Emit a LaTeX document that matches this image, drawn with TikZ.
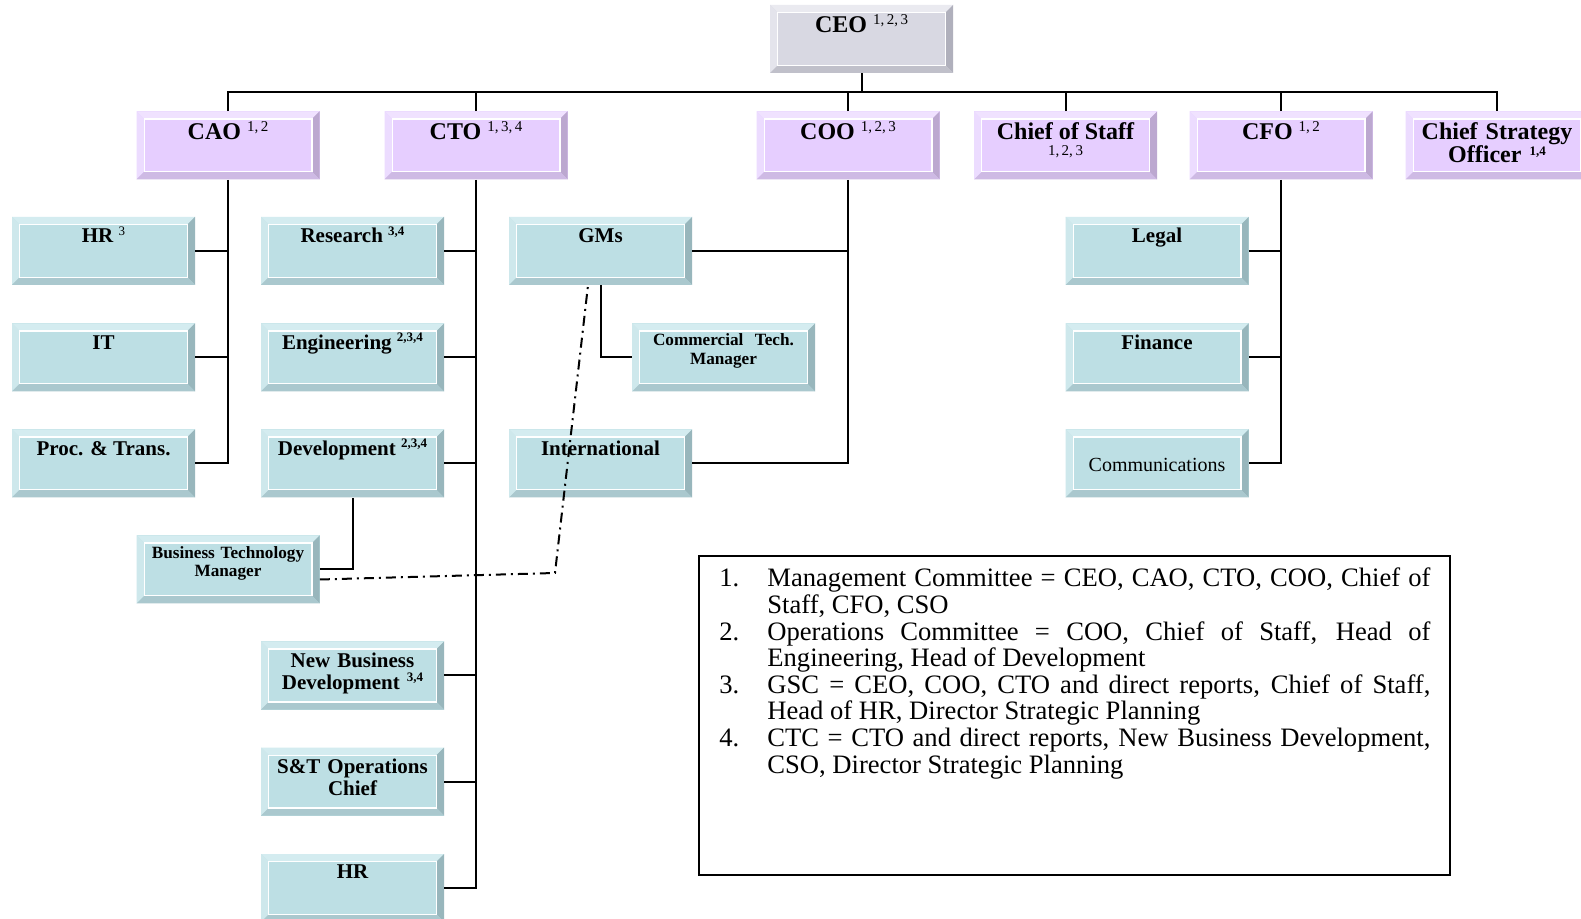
\documentclass[tikz,border=0pt]{standalone}
\usepackage{fontspec}
\setmainfont{Liberation Serif}
\usetikzlibrary{calc}
\definecolor{gface}{RGB}{216,216,226}
\definecolor{gtop}{RGB}{234,234,240}
\definecolor{gleft}{RGB}{228,228,236}
\definecolor{gright}{RGB}{176,176,188}
\definecolor{gbot}{RGB}{192,192,202}
\definecolor{lface}{RGB}{230,206,255}
\definecolor{ltop}{RGB}{240,226,255}
\definecolor{lleft}{RGB}{236,220,255}
\definecolor{lright}{RGB}{188,168,208}
\definecolor{lbot}{RGB}{206,186,228}
\definecolor{cface}{RGB}{189,223,228}
\definecolor{ctop}{RGB}{212,236,240}
\definecolor{cleft}{RGB}{206,232,236}
\definecolor{cright}{RGB}{152,182,188}
\definecolor{cbot}{RGB}{170,200,206}
\newcommand\bvw{3.8pt}
\newcommand\topfont{\fontsize{12}{12}\selectfont\bfseries}
\newcommand\midfont{\fontsize{10.5}{11}\selectfont\bfseries}
\newcommand\tsup[1]{\raisebox{4pt}{\fontsize{7.5}{8}\selectfont\mdseries #1}}
\newcommand\msup[1]{\raisebox{3.6pt}{\fontsize{6.5}{7}\selectfont #1}}
\newcommand\legline[1]{\makebox[331.5pt][s]{#1}}
\tikzset{
  bev/.style n args={5}{fill=#1, draw=none, inner sep=0pt, minimum width=91.5pt, minimum height=34pt,
    path picture={
      \coordinate (pSW) at (path picture bounding box.south west);
      \coordinate (pNE) at (path picture bounding box.north east);
      \coordinate (pNW) at (path picture bounding box.north west);
      \coordinate (pSE) at (path picture bounding box.south east);
      \fill[#2] (pNW) -- (pNE) -- ($(pNE)+(-\bvw,-\bvw)$) -- ($(pNW)+(\bvw,-\bvw)$) -- cycle;
      \fill[#3] (pNW) -- (pSW) -- ($(pSW)+(\bvw,\bvw)$) -- ($(pNW)+(\bvw,-\bvw)$) -- cycle;
      \fill[#4] (pNE) -- (pSE) -- ($(pSE)+(-\bvw,\bvw)$) -- ($(pNE)+(-\bvw,-\bvw)$) -- cycle;
      \fill[#5] (pSW) -- (pSE) -- ($(pSE)+(-\bvw,\bvw)$) -- ($(pSW)+(\bvw,\bvw)$) -- cycle;
      \draw[white, line width=0.6pt] ($(pSW)+(\bvw,\bvw)$) rectangle ($(pNE)+(-\bvw,-\bvw)$);
    }},
  greybox/.style={bev={gface}{gtop}{gleft}{gright}{gbot}},
  lilacbox/.style={bev={lface}{ltop}{lleft}{lright}{lbot}},
  cyanbox/.style={bev={cface}{ctop}{cleft}{cright}{cbot}},
  toplab/.style={anchor=base, inner sep=0pt, font=\topfont},
  midlab/.style={anchor=base, inner sep=0pt, font=\midfont},
  multilab/.style={anchor=base, inner sep=0pt, text width=100pt, align=center},
  conn/.style={line width=1pt, black},
  dotline/.style={line width=1pt, black, dash pattern=on 5pt off 2.5pt on 1pt off 2.5pt},
}
\begin{document}
\begin{tikzpicture}[x=0.5pt, y=-0.5pt]
\fill[white] (0,0) rectangle (1581,919);
\useasboundingbox (0,0) rectangle (1581,919);

% top level
\node[greybox] (ceo) at (861.5,39) {};
\node[lilacbox] (cao) at (228,145.5) {};
\node[lilacbox] (cto) at (476,145.5) {};
\node[lilacbox] (coo) at (848,145.5) {};
\node[lilacbox] (cos) at (1065.5,145.5) {};
\node[lilacbox] (cfo) at (1281,145.5) {};
\node[lilacbox] (cso) at (1497,145.5) {};

% CAO reports
\node[cyanbox] (hra) at (103.5,251) {};
\node[cyanbox] (it) at (103.5,357.5) {};
\node[cyanbox] (proc) at (103.5,463.5) {};
% CTO reports
\node[cyanbox] (res) at (352.5,251) {};
\node[cyanbox] (eng) at (352.5,357.5) {};
\node[cyanbox] (dev) at (352.5,463.5) {};
\node[cyanbox] (btm) at (228,569.5) {};
\node[cyanbox] (nbd) at (352.5,675.5) {};
\node[cyanbox] (snt) at (352.5,781.5) {};
\node[cyanbox] (hrb) at (352.5,888) {};
% COO reports
\node[cyanbox] (gms) at (600.5,251) {};
\node[cyanbox] (ctm) at (723.5,357.5) {};
\node[cyanbox] (intl) at (600.5,463.5) {};
% CFO reports
\node[cyanbox] (legal) at (1157,251) {};
\node[cyanbox] (fin) at (1157,357.5) {};
\node[cyanbox] (comm) at (1157,463.5) {};

% labels
\node[toplab] (ceo-t) at ($(ceo.north)+(0,-14pt)$) {CEO \tsup{1,\,2,\,3}};
\node[toplab] (cao-t) at ($(cao.north)+(0,-14pt)$) {CAO \tsup{1,\,2}};
\node[toplab] (cto-t) at ($(cto.north)+(0,-14pt)$) {CTO \tsup{1,\,3,\,4}};
\node[toplab] (coo-t) at ($(coo.north)+(0,-14pt)$) {COO \tsup{1,\,2,\,3}};
\node[toplab] (cos-t) at ($(cos.north)+(0,-14pt)$) {Chief of Staff};
\node[anchor=base, inner sep=0pt, font=\fontsize{7.5}{8}\selectfont] (cos-s) at ($(cos.north)+(0,-22pt)$) {1,\,2,\,3};
\node[toplab] (cfo-t) at ($(cfo.north)+(0,-14pt)$) {CFO \tsup{1,\,2}};
\node[multilab, font=\fontsize{12}{11.6}\selectfont\bfseries] (cso-t) at ($(cso.north)+(0,-14pt)$) {Chief Strategy\\Officer \msup{1,4}};

\node[midlab] (hra-t) at ($(hra.north)+(0,-13pt)$) {HR \msup{\mdseries 3}};
\node[midlab] (it-t) at ($(it.north)+(0,-13pt)$) {IT};
\node[midlab] (proc-t) at ($(proc.north)+(0,-13pt)$) {Proc. \& Trans.};
\node[midlab] (res-t) at ($(res.north)+(0,-13pt)$) {Research \msup{3,4}};
\node[midlab] (eng-t) at ($(eng.north)+(0,-13pt)$) {Engineering \msup{2,3,4}};
\node[midlab] (dev-t) at ($(dev.north)+(0,-13pt)$) {Development \msup{2,3,4}};
\node[multilab, font=\fontsize{8.6}{9}\selectfont\bfseries] (btm-t) at ($(btm.north)+(0,-11.5pt)$) {Business Technology\\Manager};
\node[multilab, font=\fontsize{10.5}{11}\selectfont\bfseries] (nbd-t) at ($(nbd.north)+(0,-13pt)$) {New Business\\Development \msup{3,4}};
\node[multilab, font=\fontsize{10.5}{11.2}\selectfont\bfseries] (snt-t) at ($(snt.north)+(0,-13pt)$) {S\&T Operations\\Chief};
\node[midlab] (hrb-t) at ($(hrb.north)+(0,-12.5pt)$) {HR};
\node[midlab] (gms-t) at ($(gms.north)+(0,-13pt)$) {GMs};
\node[multilab, font=\fontsize{8.6}{9.5}\selectfont\bfseries] (ctm-t) at ($(ctm.north)+(0,-11pt)$) {Commercial\ \ Tech.\\Manager};
\node[midlab] (intl-t) at ($(intl.north)+(0,-13pt)$) {International};
\node[midlab] (legal-t) at ($(legal.north)+(0,-13pt)$) {Legal};
\node[midlab] (fin-t) at ($(fin.north)+(0,-13pt)$) {Finance};
\node[anchor=base, inner sep=0pt, font=\fontsize{10}{11}\selectfont] (comm-t) at ($(comm.north)+(0,-21pt)$) {Communications};

% connectors: top bus
\coordinate (bus) at (861.5,92);
\draw[conn] (ceo.south) -- (ceo.south |- bus);
\draw[conn] (cao.north) -- (cao.north |- bus) -- (cso.north |- bus) -- (cso.north);
\draw[conn] (cto.north) -- (cto.north |- bus);
\draw[conn] (coo.north) -- (coo.north |- bus);
\draw[conn] (cos.north) -- (cos.north |- bus);
\draw[conn] (cfo.north) -- (cfo.north |- bus);

% CAO
\draw[conn] (cao.south) |- (proc.east);
\draw[conn] (hra.east) -- (hra.east -| cao.south);
\draw[conn] (it.east) -- (it.east -| cao.south);
% CTO
\draw[conn] (cto.south) |- (hrb.east);
\draw[conn] (res.east) -- (res.east -| cto.south);
\draw[conn] (eng.east) -- (eng.east -| cto.south);
\draw[conn] (dev.east) -- (dev.east -| cto.south);
\draw[conn] (nbd.east) -- (nbd.east -| cto.south);
\draw[conn] (snt.east) -- (snt.east -| cto.south);
\draw[conn] (dev.south) |- (btm.east);
% COO
\draw[conn] (coo.south) |- (intl.east);
\draw[conn] (gms.east) -- (gms.east -| coo.south);
\draw[conn] (gms.south) |- (ctm.west);
% CFO
\draw[conn] (cfo.south) |- (comm.east);
\draw[conn] (legal.east) -- (legal.east -| cfo.south);
\draw[conn] (fin.east) -- (fin.east -| cfo.south);

% dash-dot link
\coordinate (ddk) at (555,573);
\draw[dotline] ([yshift=-5pt]btm.east) -- (ddk) -- ([xshift=-6.25pt]gms.south);

% legend
\node[draw, line width=0.8pt, minimum width=375.5pt, minimum height=159.5pt, inner sep=0pt] (legend) at (1074.5,715.5) {};
\node[anchor=base west, inner sep=0pt, text width=365pt, align=left, font=\fontsize{13.3}{13.3}\selectfont] (legtext) at (719,587) {%
\spaceskip=0pt\xspaceskip=0pt
\makebox[24pt][l]{1.}\legline{Management Committee = CEO, CAO, CTO, COO, Chief of}\\
\hspace*{24pt}Staff, CFO, CSO\\
\makebox[24pt][l]{2.}\legline{Operations Committee = COO, Chief of Staff, Head of}\\
\hspace*{24pt}Engineering, Head of Development\\
\makebox[24pt][l]{3.}\legline{GSC = CEO, COO, CTO and direct reports, Chief of Staff,}\\
\hspace*{24pt}Head of HR, Director Strategic Planning\\
\makebox[24pt][l]{4.}\legline{CTC = CTO and direct reports, New Business Development,}\\
\hspace*{24pt}CSO, Director Strategic Planning};
\end{tikzpicture}
\end{document}
